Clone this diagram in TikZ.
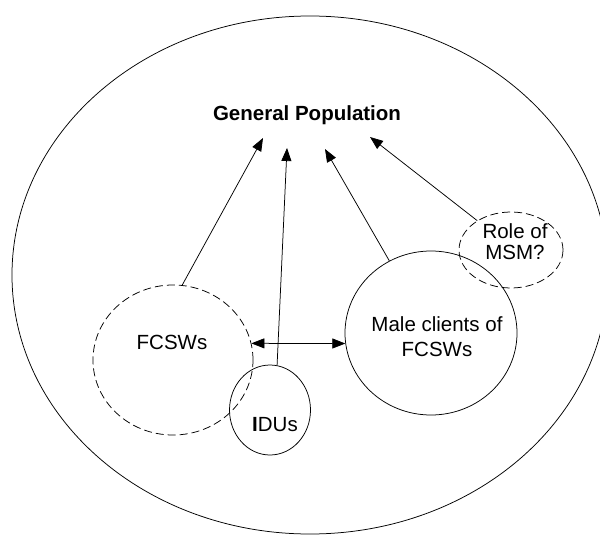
\documentclass[tikz,border=0pt]{standalone}
\usepackage{fontspec}
\setmainfont{Liberation Sans}
\usetikzlibrary{positioning, arrows.meta, shapes.geometric}
\tikzset{%
  eda/.style={-{Triangle[length=13bp, width=10bp]}, line width=0.75bp},
  edb/.style={{Triangle[length=13bp, width=10bp]}-{Triangle[length=13bp, width=10bp]}, line width=0.75bp},
  grp/.style={draw, ellipse, inner sep=0pt, line width=0.75bp},
  hid/.style={grp, dash pattern=on 8bp off 4bp},
  txt/.style={font=\fontsize{20.5bp}{23bp}\selectfont, align=center, inner sep=0pt}
}

\begin{document}
\begin{tikzpicture}[x=1bp, y=-1bp]
        \useasboundingbox (0,0) rectangle (600,535);
        \node[grp] (pop) [minimum width=596bp, minimum height=518bp] at (310,275) {};
        \node[hid] (fc)  [minimum width=160bp, minimum height=150bp] at (173,360) {};
        \node[grp] (idu) [minimum width=81bp,  minimum height=90bp]  at (270,410) {};
        \node[grp] (mc)  [minimum width=172bp, minimum height=164bp] at (431,333) {};
        \node[hid] (msm) [minimum width=104bp, minimum height=76bp]  at (511,250) {};
        \node[txt, anchor=base] (gpl) at (307,120.5) {\bfseries General Population};
        \node[txt] (fcl)  at (172,342) {FCSWs};
        \node[txt] (idul) at (275,425) {\textbf{I}DUs};
        \node[txt] (mcl)  at (437,337) {Male clients of\\[2bp]FCSWs};
        \node[txt] (msml) at (515,242) {Role of\\[-2bp]MSM?};
        \coordinate (t1) at (263,138);
        \coordinate (t2) at (287,148);
        \coordinate (t3) at (325,149);
        \coordinate (t4) at (370,137);
        \path[eda]
        (fc.83)   edge (t1)
        (idu.81)  edge (t2)
        (mc.120)  edge (t3)
        (msm.139) edge (t4);
        \path[edb]
        (fc.12) edge (mc.187);
      \end{tikzpicture}
\end{document}
